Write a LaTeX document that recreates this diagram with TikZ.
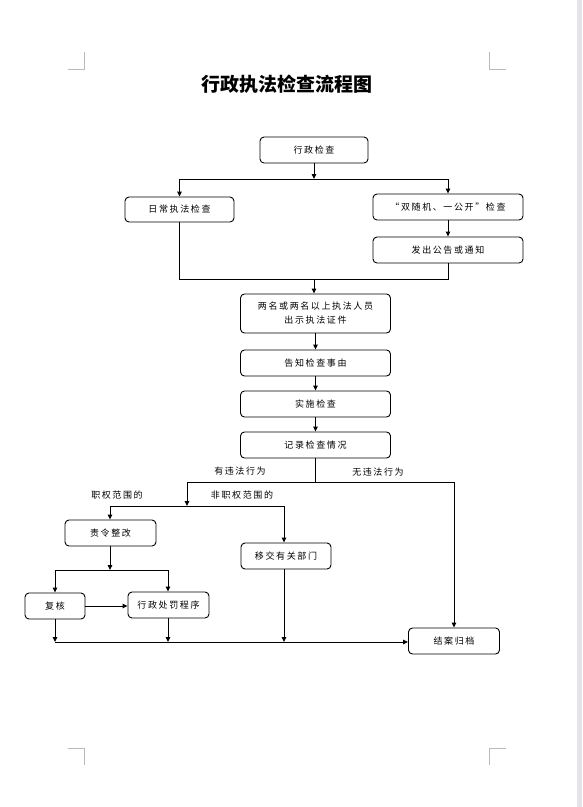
\documentclass[tikz,border=0pt]{standalone}
\usepackage{fontspec}
\setmainfont{Noto Sans CJK SC}
\newfontfamily\boxfont[LetterSpace=18]{Noto Sans CJK SC}
\newfontfamily\titlefont{Noto Sans CJK SC}
\usetikzlibrary{arrows.meta}
\definecolor{stripc}{RGB}{228,228,232}
\definecolor{markc}{RGB}{185,185,185}
\tikzset{
 box/.style={draw, line width=0.9pt, rounded corners=4pt, inner sep=0pt, align=center, font=\boxfont\fontsize{9}{14}\selectfont},
 conn/.style={line width=0.9pt},
 arr/.style={conn, -{Triangle[length=5pt,width=4.5pt]}},
 lbl/.style={inner sep=0pt, font=\boxfont\fontsize{9}{12}\selectfont},
 cropmark/.style={draw=markc, line width=0.8pt}
}
\begin{document}
\begin{tikzpicture}[x=1pt,y=-1pt]
\fill[white] (0,0) rectangle (582,807);
\useasboundingbox (0,0) rectangle (582,807);
\fill[stripc] (577,0) rectangle (582,807);
% crop marks
\draw[cropmark] (68,69) -- (84,69) -- (84,52);
\draw[cropmark] (506,69) -- (489,69) -- (489,52);
\draw[cropmark] (68,748) -- (84,748) -- (84,765);
\draw[cropmark] (506,748) -- (489,748) -- (489,765);
% title
\node[inner sep=0pt, font=\titlefont\bfseries\fontsize{19}{22}\selectfont] (title) at (287,84) {行政执法检查流程图};
% boxes
\node[box, minimum width=108pt, minimum height=26pt] (xz) at (314,150) {行政检查};
\node[box, minimum width=109pt, minimum height=25pt] (rc) at (179.5,209.5) {日常执法检查};
\node[box, minimum width=150pt, minimum height=26pt] (sj) at (448,207) {“双随机、一公开”检查};
\node[box, minimum width=150pt, minimum height=26pt] (fc) at (448,250) {发出公告或通知};
\node[box, minimum width=150pt, minimum height=39pt] (lm) at (315.5,313.5) {两名或两名以上执法人员\\出示执法证件};
\node[box, minimum width=150pt, minimum height=26pt] (gz) at (315.5,363) {告知检查事由};
\node[box, minimum width=150pt, minimum height=26pt] (ss) at (315.5,404) {实施检查};
\node[box, minimum width=150pt, minimum height=26pt] (jl) at (315.5,445) {记录检查情况};
\node[box, minimum width=91pt, minimum height=26pt] (zl) at (110.5,533) {责令整改};
\node[box, minimum width=90pt, minimum height=26pt] (yj) at (286,556) {移交有关部门};
\node[box, minimum width=60pt, minimum height=26pt] (fh) at (55,606) {复核};
\node[box, minimum width=81pt, minimum height=26pt] (xc) at (168.5,605) {行政处罚程序};
\node[box, minimum width=91pt, minimum height=26pt] (ja) at (454,641) {结案归档};
% labels
\node[lbl] (l1) at (240,471) {有违法行为};
\node[lbl] (l2) at (378,472) {无违法行为};
\node[lbl] (l3) at (117,495) {职权范围的};
\node[lbl] (l4) at (242,495) {非职权范围的};
% connectors
\coordinate (t1) at (314,179);
\draw[arr] (xz.south) -- (t1);
\draw[conn] (rc.north |- t1) -- (sj.north |- t1);
\draw[arr] (rc.north |- t1) -- (rc.north);
\draw[arr] (sj.north |- t1) -- (sj.north);
\draw[arr] (sj) -- (fc);
\coordinate (t2) at (314,279);
\draw[conn] (rc.south) -- (rc.south |- t2) -- (fc.south |- t2) -- (fc.south);
\draw[arr] (t2) -- (t2 |- lm.north);
\draw[arr] (lm) -- (gz);
\draw[arr] (gz) -- (ss);
\draw[arr] (ss) -- (jl);
\coordinate (t3L) at (187,482);
\coordinate (t3R) at (454,482);
\draw[conn] (jl.south) -- (jl.south |- t3L);
\draw[conn] (t3L) -- (t3R);
\draw[arr] (t3R) -- (t3R |- ja.north);
\coordinate (t4) at (187,506);
\draw[arr] (t3L) -- (t4);
\coordinate (t4L) at (110,506);
\coordinate (t4R) at (284,506);
\draw[conn] (t4L) -- (t4R);
\draw[arr] (t4L) -- (t4L |- zl.north);
\draw[arr] (t4R) -- (t4R |- yj.north);
\coordinate (t5) at (110,570);
\coordinate (t5L) at (55,570);
\coordinate (t5R) at (168,570);
\draw[arr] (zl.south -| t5) -- (t5);
\draw[conn] (t5L) -- (t5R);
\draw[arr] (t5L) -- (t5L |- fh.north);
\draw[arr] (t5R) -- (t5R |- xc.north);
\draw[arr] (fh.east) -- (fh.east -| xc.west);
\coordinate (t6) at (55,642);
\draw[arr] (t6) -- (t6 -| ja.west);
\draw[arr] (fh.south) -- (fh.south |- t6);
\draw[arr] (t5R |- xc.south) -- (t5R |- t6);
\draw[arr] (t4R |- yj.south) -- (t4R |- t6);
\end{tikzpicture}
\end{document}
